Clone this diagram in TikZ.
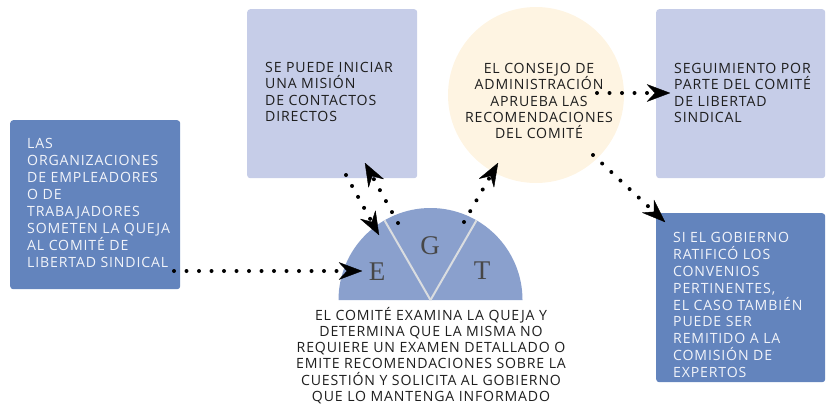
\documentclass[tikz,border=0pt]{standalone}
\usepackage{fontspec}
\setmainfont{Open Sans}[LetterSpace=6]
\newfontfamily\letterfont{Liberation Serif}
\usetikzlibrary{arrows.meta}
\definecolor{darkbox}{HTML}{6384BD}
\definecolor{lightbox}{HTML}{C6CDE8}
\definecolor{cream}{HTML}{FEF4E2}
\definecolor{halfdisc}{HTML}{8AA0CD}
\definecolor{divider}{HTML}{DADDE0}
\definecolor{darktext}{HTML}{1E1E1E}
\definecolor{lighttext}{HTML}{F2F4FA}
\definecolor{lettergray}{HTML}{474747}
\begin{document}
\begin{tikzpicture}[x=1pt,y=-1pt,
  boxshape/.style={rectangle, rounded corners=3pt, inner sep=0pt, anchor=north west},
  darkrect/.style={boxshape, fill=darkbox},
  lightrect/.style={boxshape, fill=lightbox},
  txt/.style={inner sep=0pt, anchor=north west, align=left, font=\fontsize{14.1}{#1}\selectfont},
  darkfill/.style={txt=#1, text=lighttext},
  lightfill/.style={txt=#1, text=darktext},
  dotarrow/.style={line width=4pt, line cap=round, dash pattern=on 0pt off 12.5pt,
    -{Stealth[length=24pt, width=18pt, inset=8.5pt, line width=0.4pt, round]}},
  letter/.style={font=\letterfont\fontsize{27}{27}\selectfont, text=lettergray, inner sep=0pt}
]
\useasboundingbox (0,0) rectangle (826,408);

% boxes
\node[darkrect, minimum width=170pt, minimum height=169pt] (orgbox) at (10,120) {};
\node[lightrect, minimum width=170pt, minimum height=169pt] (missionbox) at (247,9) {};
\node[lightrect, minimum width=169pt, minimum height=169pt] (followbox) at (656,9) {};
\node[darkrect, minimum width=169pt, minimum height=169pt] (expertbox) at (656,213) {};
\node[circle, fill=cream, minimum size=176pt, inner sep=0pt] (council) at (536,95) {};

% half disc
\fill[halfdisc] (338.5,300) arc[start angle=180, end angle=360, radius=92] -- cycle;
\coordinate (apex) at (430.5,300);
\draw[divider, line width=2pt] (apex) -- ++(-46,-79.7) coordinate (divL);
\draw[divider, line width=2pt] (apex) -- ++(46,-79.7) coordinate (divR);
\node[letter] (lE) at (377,272) {E};
\node[letter] (lG) at (430,246) {G};
\node[letter] (lT) at (482,271) {T};

% texts
\node[darkfill=17] (orgtxt) at (27,138) {LAS\\ORGANIZACIONES\\DE EMPLEADORES\\O DE\\TRABAJADORES\\SOMETEN LA QUEJA\\AL COMITÉ DE\\LIBERTAD SINDICAL};
\node[lightfill=16.3] (missiontxt) at (265,62) {SE PUEDE INICIAR\\UNA MISIÓN\\DE CONTACTOS\\DIRECTOS};
\node[lightfill=16.3] (followtxt) at (674,63) {SEGUIMIENTO POR\\PARTE DEL COMITÉ\\DE LIBERTAD\\SINDICAL};
\node[darkfill=16.9] (experttxt) at (673,232) {SI EL GOBIERNO\\RATIFICÓ LOS\\CONVENIOS\\PERTINENTES,\\EL CASO TAMBIÉN\\PUEDE SER\\REMITIDO A LA\\COMISIÓN DE\\EXPERTOS};
\node[lightfill=16.3, align=center, anchor=north] (counciltxt) at (539,63) {EL CONSEJO DE\\ADMINISTRACIÓN\\APRUEBA LAS\\RECOMENDACIONES\\DEL COMITÉ};
\node[lightfill=16.2, align=center, anchor=north] (committeetxt) at (431,307) {EL COMITÉ EXAMINA LA QUEJA Y\\DETERMINA QUE LA MISMA NO\\REQUIERE UN EXAMEN DETALLADO O\\EMITE RECOMENDACIONES SOBRE LA\\CUESTIÓN Y SOLICITA AL GOBIERNO\\QUE LO MANTENGA INFORMADO};

% arrow endpoints
\coordinate (a1s) at (174,271);   \coordinate (a1e) at (362,271);
\coordinate (a2s) at (346,175);   \coordinate (a2e) at (379,235);
\coordinate (a3s) at (398,223);   \coordinate (a3e) at (365,163);
\coordinate (a4s) at (464,222);   \coordinate (a4e) at (498,163);
\coordinate (a5s) at (597,93);    \coordinate (a5e) at (670,93);
\coordinate (a6s) at (593,155);   \coordinate (a6e) at (665,222);

\draw[dotarrow] (a1s) -- (a1e);
\draw[dotarrow] (a2s) -- (a2e);
\draw[dotarrow] (a3s) -- (a3e);
\draw[dotarrow] (a4s) -- (a4e);
\draw[dotarrow] (a5s) -- (a5e);
\draw[dotarrow] (a6s) -- (a6e);
\end{tikzpicture}
\end{document}
